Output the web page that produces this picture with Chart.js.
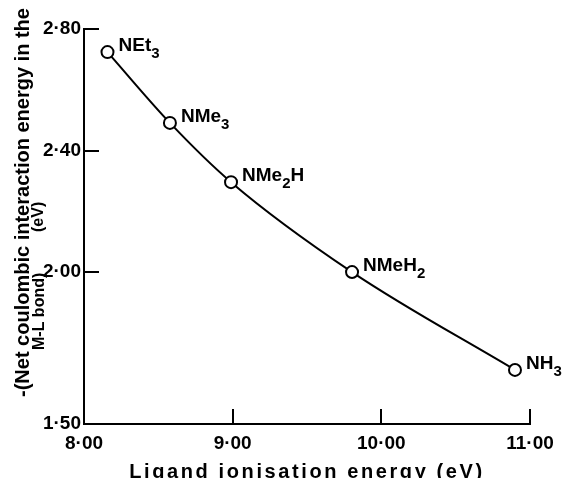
<!DOCTYPE html>
<html>
<head>
<meta charset="utf-8">
<script src="https://cdn.jsdelivr.net/npm/chart.js@4.4.1/dist/chart.umd.min.js"></script>
<style>
    body { margin: 0; background: #fff; }
    #wrap { width: 562px; height: 478px; }
</style>
</head>
<body>
<div id="wrap"><canvas id="myChart" width="562" height="478"></canvas></div>
<script>
const ligands = ["NEt_3", "NMe_3", "NMe_2H", "NMeH_2", "NH_3"]
const ionisation = [8.158, 8.578, 8.989, 9.803, 10.899]
const coulombic = [2.724, 2.491, 2.296, 2.000, 1.678]
const xTicks = [8, 9, 10, 11]
const yTicks = [1.5, 2.0, 2.4, 2.8]
const xTitle = "Ligand ionisation energy (eV)"
const yTitle = ["-(Net coulombic interaction energy in the", "M-L bond)", "(eV)"]

const ctx = document.getElementById('myChart').getContext('2d');
const family = "'Liberation Sans', Arial, sans-serif"

Chart.defaults.font.family = family
Chart.defaults.font.size = 19
Chart.defaults.font.weight = 'bold'
Chart.defaults.color = '#000'

const fmt = v => v.toFixed(2).replace('.', '·')

// draws text with "_x" meaning subscript x
const drawRich = (c, str, x, y) => {
    let cx = x
    for (let i = 0; i < str.length; i++) {
        if (str[i] === '_') {
            i++
            c.font = `bold 15px ${family}`
            c.fillText(str[i], cx, y + 7)
        } else {
            c.font = `bold 19px ${family}`
            c.fillText(str[i], cx, y)
        }
        cx += c.measureText(str[i]).width
    }
}

const extras = {
    id: 'extras',
    afterDraw(chart) {
        const c = chart.ctx
        const xs = chart.scales.x
        const ys = chart.scales.y
        const area = chart.chartArea
        c.save()
        c.strokeStyle = '#000'
        c.lineWidth = 2
        c.beginPath()
        yTicks.slice(1).forEach(v => {
            const py = Math.round(ys.getPixelForValue(v))
            c.moveTo(area.left, py)
            c.lineTo(area.left + 15, py)
        })
        xTicks.slice(1).forEach(v => {
            const px = Math.round(xs.getPixelForValue(v))
            c.moveTo(px, area.bottom)
            c.lineTo(px, area.bottom - 15)
        })
        c.stroke()

        c.fillStyle = '#000'
        c.textBaseline = 'alphabetic'
        c.textAlign = 'left'
        const meta = chart.getDatasetMeta(0)
        meta.data.forEach((el, i) => {
            drawRich(c, ligands[i], el.x + 11, el.y - 1)
        })

        c.font = `bold 20px ${family}`
        c.letterSpacing = '2.6px'
        c.textAlign = 'center'
        c.fillText(xTitle, (area.left + area.right) / 2, 478)
        c.letterSpacing = '0px'

        c.textAlign = 'left'
        const pos = [[29, 397, 20], [44, 350, 16], [43, 232, 16]]
        yTitle.forEach((t, i) => {
            c.save()
            c.translate(pos[i][0], pos[i][1])
            c.rotate(-Math.PI / 2)
            c.font = `bold ${pos[i][2]}px ${family}`
            c.fillText(t, 0, 0)
            c.restore()
        })
        c.restore()
    }
}

const chart = new Chart(ctx, {
    type: 'scatter',
    data: {
        datasets: [{
            data: ionisation.map((x, i) => ({ x: x, y: coulombic[i] })),
            showLine: true,
            cubicInterpolationMode: 'monotone',
            borderColor: '#000',
            borderWidth: 2,
            pointRadius: 6,
            pointBorderWidth: 2,
            pointBackgroundColor: '#fff',
            pointBorderColor: '#000'
        }]
    },
    options: {
        responsive: false,
        animation: false,
        layout: { padding: { top: 29, right: 32, left: 0, bottom: 0 } },
        plugins: { legend: { display: false }, tooltip: { enabled: false } },
        scales: {
            x: {
                type: 'linear',
                min: 8,
                max: 11,
                afterBuildTicks: scale => { scale.ticks = xTicks.map(v => ({ value: v })) },
                afterFit: scale => { scale.height = 54 },
                ticks: { callback: v => fmt(v), padding: 8, maxRotation: 0, autoSkip: false },
                grid: { display: false, drawTicks: false },
                border: { display: true, color: '#000', width: 2 }
            },
            y: {
                type: 'linear',
                min: 1.5,
                max: 2.8,
                afterBuildTicks: scale => { scale.ticks = yTicks.map(v => ({ value: v })) },
                afterFit: scale => { scale.width = 84 },
                ticks: { callback: v => fmt(v), padding: 3, autoSkip: false },
                grid: { display: false, drawTicks: false },
                border: { display: true, color: '#000', width: 2 }
            }
        }
    },
    plugins: [extras]
});
</script>
</body>
</html>
